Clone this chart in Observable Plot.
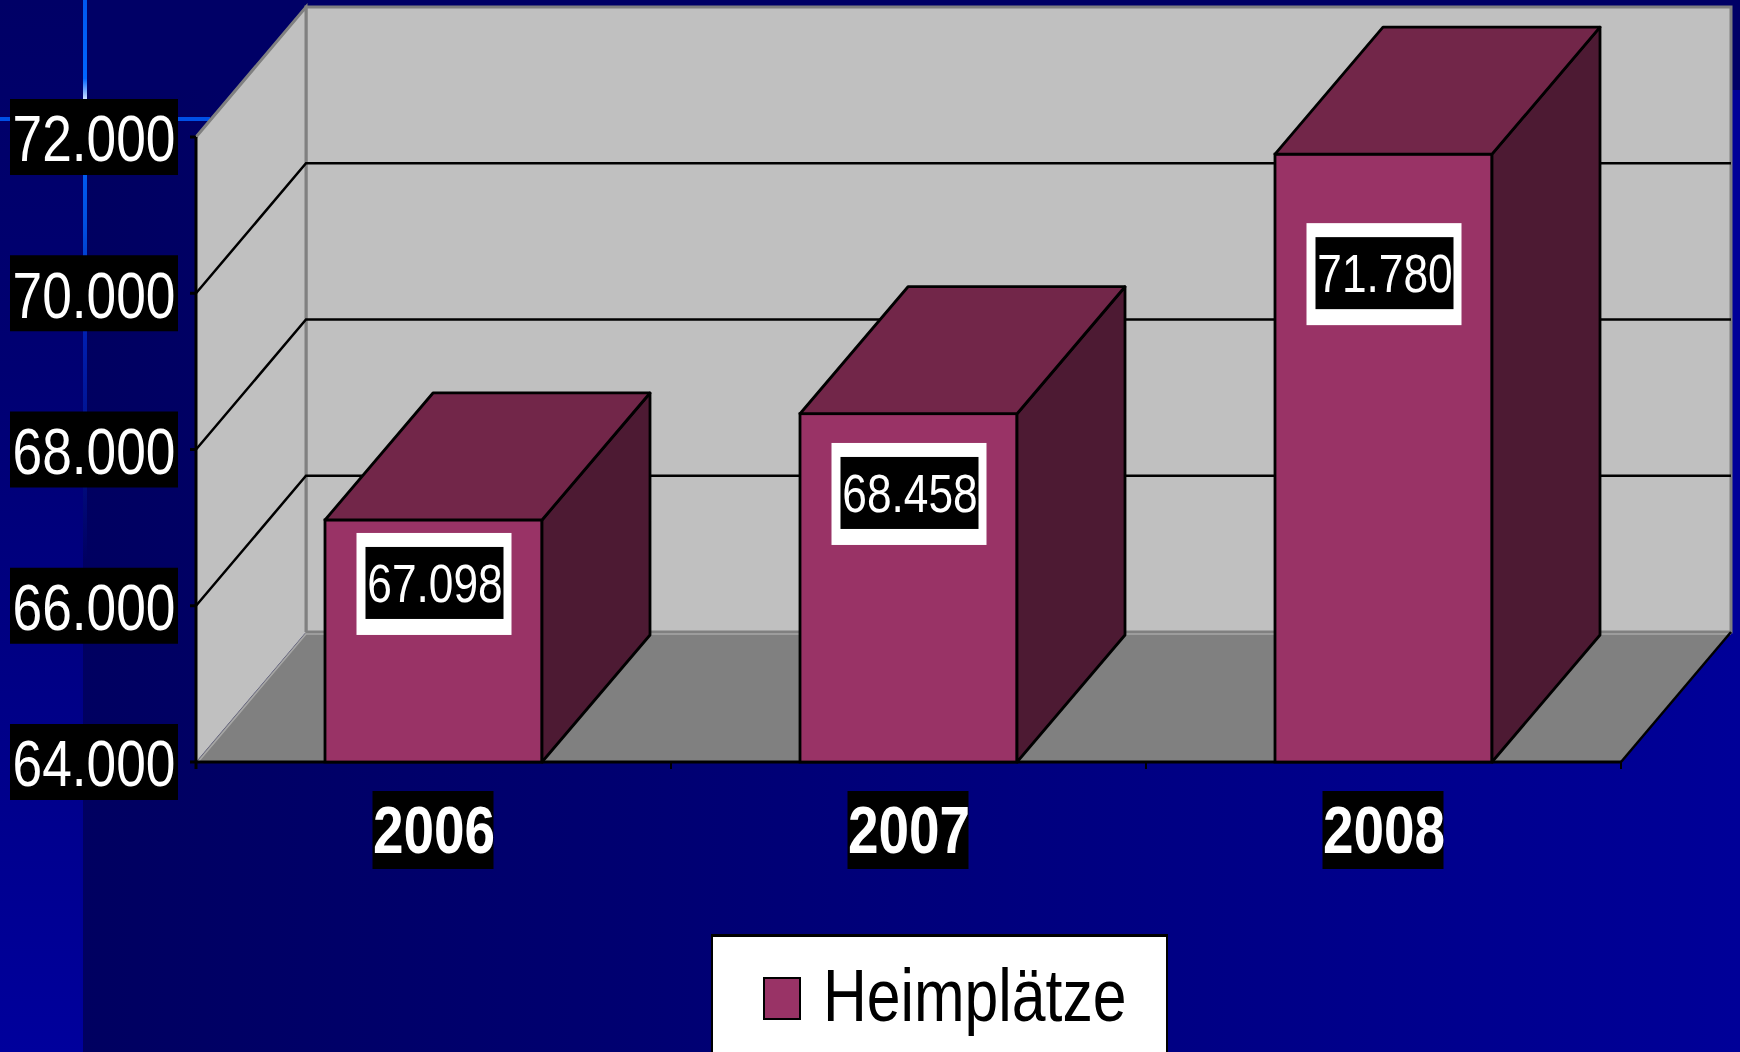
<!DOCTYPE html>
<html>
<head>
<meta charset="utf-8">
<script src="https://cdn.jsdelivr.net/npm/d3@7"></script>
<script src="https://cdn.jsdelivr.net/npm/@observablehq/plot@0.6"></script>
<style>
html, body { margin: 0; padding: 0; width: 1740px; height: 1052px; overflow: hidden; }
body { position: relative; background: linear-gradient(to right, #00005e 0%, #000070 35%, #000098 100%); }
#topband { position: absolute; left: 0; top: 0; width: 1740px; height: 90px; background: #000066; }
#stripe { position: absolute; left: 0; top: 0; width: 83px; height: 1052px; background: linear-gradient(to bottom, #000066 0%, #000072 35%, #00009c 100%); }
#vline { position: absolute; left: 83px; top: 0; width: 4px; height: 560px;
  background: linear-gradient(to bottom, #0058f0 0%, #0066ff 14%, #dde8ff 18%, #0066ff 21%, #0050e0 40%, #001fb0 60%, rgba(0,0,160,0) 100%); }
#hline { position: absolute; left: 0; top: 117px; width: 210px; height: 4px; background: #0050e6; }
#chart { position: absolute; left: 0; top: 0; }
#legend { position: absolute; left: 711px; top: 934px; width: 457px; height: 140px; box-sizing: border-box;
  background: #ffffff; border: 2px solid #000; border-top-width: 3px; }
#legend .sw { position: absolute; left: 50px; top: 40px; width: 38px; height: 43px; box-sizing: border-box;
  background: #993366; border: 2px solid #000; }
#legend .lt { position: absolute; left: 110px; top: 22px; font-size: 74px; line-height: 74px; color: #000; white-space: nowrap; transform-origin: left center; }
</style>
</head>
<body>
<div id="topband"></div>
<div id="stripe"></div>
<div id="vline"></div>
<div id="hline"></div>
<div id="chart"></div>
<div id="legend"><span class="sw"></span><span class="lt"></span></div>
<script>
// ---------- data ----------
const years = ["2006", "2007", "2008"];
const heimplaetze = [67098, 68458, 71780];
const yTickValues = [64000, 66000, 68000, 70000, 72000];
const seriesLabel = "Heimplätze";

const data = years.map((year, i) => ({year, value: heimplaetze[i]}));
const de = d3.formatLocale({decimal: ",", thousands: ".", grouping: [3], currency: ["", " €"]});
const fmt = de.format(",d");

// ---------- font detection (narrow face) ----------
const ctx = document.createElement("canvas").getContext("2d");
ctx.font = "64px 'Liberation Sans Narrow', monospace";
const wA = ctx.measureText("72.000 Heim").width;
ctx.font = "64px monospace";
const wB = ctx.measureText("72.000 Heim").width;
const hasNarrow = Math.abs(wA - wB) > 0.5;
const FONT = hasNarrow ? "'Liberation Sans Narrow', 'Arial Narrow', sans-serif" : "'Liberation Sans', Arial, sans-serif";
const SX = hasNarrow ? 1 : 0.82;

// ---------- layout / style constants ----------
const W = 1740, H = 934;
const ML = 195, MR = 118, MT = 137, MB = 172;
const WALL = {dx: 110, dy: -130};
const BARD = {dx: 108, dy: -127};
const INSET = 129;
const FRONT = "#993366", TOP = "#722649", SIDE = "#4d1a33";
const base = yTickValues[0];
const labelPos = v => v - 0.153 * (v - base) - 345;

function bandwidth(x) {
  if (x.bandwidth) return typeof x.bandwidth === "function" ? x.bandwidth() : x.bandwidth;
  return x(years[1]) - x(years[0]);
}
const poly = pts => "M" + pts.map(p => p.join(",")).join("L") + "Z";

// walls, floor, gridlines, axis lines
function walls(index, scales) {
  const {x, y} = scales;
  const bw = bandwidth(x);
  const x0 = x(years[0]), x1 = x(years[years.length - 1]) + bw;
  const yb = y(yTickValues[0]), yt = y(yTickValues[yTickValues.length - 1]);
  const {dx, dy} = WALL;
  const g = d3.create("svg:g");
  g.append("path").attr("d", poly([[x0 + dx, yt + dy], [x1 + dx, yt + dy], [x1 + dx, yb + dy], [x0 + dx, yb + dy]]))
    .attr("fill", "#c0c0c0").attr("stroke", "#808080").attr("stroke-width", 3);
  g.append("path").attr("d", poly([[x0, yb], [x0, yt], [x0 + dx, yt + dy], [x0 + dx, yb + dy]]))
    .attr("fill", "#c0c0c0").attr("stroke", "none");
  g.append("path").attr("d", `M${x0},${yt}L${x0 + dx},${yt + dy}L${x0 + dx},${yb + dy}`)
    .attr("fill", "none").attr("stroke", "#808080").attr("stroke-width", 3);
  g.append("path").attr("d", poly([[x0, yb], [x1, yb], [x1 + dx, yb + dy], [x0 + dx, yb + dy]]))
    .attr("fill", "#808080").attr("stroke", "none");
  g.append("path").attr("d", `M${x0 + 2},${yb}L${x0 + dx},${yb + dy + 2}L${x1 + dx},${yb + dy + 2}`)
    .attr("fill", "none").attr("stroke", "#a6a6a6").attr("stroke-width", 1.5);
  g.append("path").attr("d", `M${x1},${yb}L${x1 + dx},${yb + dy}`)
    .attr("fill", "none").attr("stroke", "#000").attr("stroke-width", 2.5);
  for (const t of yTickValues.slice(1, -1)) {
    const yy = y(t);
    g.append("path").attr("d", `M${x0},${yy}L${x0 + dx},${yy + dy}L${x1 + dx},${yy + dy}`)
      .attr("fill", "none").attr("stroke", "#000").attr("stroke-width", 2.5);
  }
  g.append("path").attr("d", `M${x0},${yt}L${x0},${yb + 7}`).attr("stroke", "#000").attr("stroke-width", 3);
  for (const t of yTickValues) {
    g.append("path").attr("d", `M${x0 - 6},${y(t)}L${x0},${y(t)}`).attr("stroke", "#000").attr("stroke-width", 3);
  }
  g.append("path").attr("d", `M${x0},${yb}L${x1},${yb}`).attr("stroke", "#000").attr("stroke-width", 3);
  for (const xx of [...years.map(d => x(d)), x1]) {
    g.append("path").attr("d", `M${xx},${yb}L${xx},${yb + 7}`).attr("stroke", "#000").attr("stroke-width", 2);
  }
  return g.node();
}

// top and side faces of the columns
function barFaces(index, scales) {
  const {x, y} = scales;
  const bw = bandwidth(x);
  const yb = y(base);
  const {dx, dy} = BARD;
  const g = d3.create("svg:g").attr("stroke", "#000").attr("stroke-width", 2.8).attr("stroke-linejoin", "round");
  for (const d of data) {
    const xl = x(d.year) + INSET, xr = x(d.year) + bw - INSET, yv = y(d.value);
    g.append("path").attr("d", poly([[xr, yv], [xr + dx, yv + dy], [xr + dx, yb + dy], [xr, yb]])).attr("fill", SIDE);
    g.append("path").attr("d", poly([[xl, yv], [xr, yv], [xr + dx, yv + dy], [xl + dx, yv + dy]])).attr("fill", TOP);
  }
  return g.node();
}

// black boxes behind value-axis labels
function tickBoxes(index, scales) {
  const {y} = scales;
  const g = d3.create("svg:g").attr("fill", "#000");
  for (const t of yTickValues) g.append("rect").attr("x", 10).attr("y", y(t) - 38).attr("width", 168).attr("height", 76);
  return g.node();
}

// black boxes behind category labels
function yearBoxes(index, scales) {
  const {x, y} = scales;
  const bw = bandwidth(x);
  const yb = y(base);
  const g = d3.create("svg:g").attr("fill", "#000");
  for (const yr of years) g.append("rect").attr("x", x(yr) + bw / 2 - 61).attr("y", yb + 29).attr("width", 121).attr("height", 78);
  return g.node();
}

// white-framed black boxes behind value labels
function valueBoxes(index, scales) {
  const {x, y} = scales;
  const bw = bandwidth(x);
  const g = d3.create("svg:g");
  for (const d of data) {
    const cx = x(d.year) + bw / 2 + 1, cy = y(labelPos(d.value));
    g.append("rect").attr("x", cx - 78).attr("y", cy - 51).attr("width", 155).attr("height", 102).attr("fill", "#fff");
    g.append("rect").attr("x", cx - 69).attr("y", cy - 37).attr("width", 138).attr("height", 72).attr("fill", "#000");
  }
  return g.node();
}

const chart = Plot.plot({
  width: W, height: H,
  marginLeft: ML, marginRight: MR, marginTop: MT, marginBottom: MB,
  style: {background: "transparent", overflow: "visible"},
  x: {type: "band", domain: years, padding: 0, axis: null},
  y: {domain: [yTickValues[0], yTickValues[yTickValues.length - 1]], axis: null},
  marks: [
    walls,
    Plot.barY(data, {x: "year", y1: base, y2: "value", fill: FRONT, stroke: "#000", strokeWidth: 2.8, insetLeft: INSET, insetRight: INSET}),
    barFaces,
    tickBoxes,
    Plot.text(yTickValues, {y: d => d, text: d => fmt(d), frameAnchor: "left", textAnchor: "end", dx: -20, dy: 3,
      fill: "#fff", fontSize: 65, fontFamily: FONT, className: "narrow"}),
    yearBoxes,
    Plot.text(data, {x: "year", text: "year", frameAnchor: "bottom", dy: 69, dx: 0, lineAnchor: "middle",
      fill: "#fff", fontSize: 67, fontWeight: "bold", fontFamily: FONT, className: "narrow"}),
    valueBoxes,
    Plot.text(data, {x: "year", y: d => labelPos(d.value), text: d => fmt(d.value), dx: 1, dy: 0, lineAnchor: "middle",
      fill: "#fff", fontSize: 54, fontFamily: FONT, className: "narrow"})
  ]
});
document.getElementById("chart").appendChild(chart);

if (SX !== 1) {
  chart.querySelectorAll(".narrow text").forEach(t => {
    const tr = t.getAttribute("transform") || "";
    t.setAttribute("transform", tr + ` scale(${SX},1)`);
  });
}

// legend
const lt = document.querySelector("#legend .lt");
lt.textContent = seriesLabel;
lt.style.fontFamily = FONT;
if (SX !== 1) lt.style.transform = `scaleX(${SX})`;
</script>
</body>
</html>
